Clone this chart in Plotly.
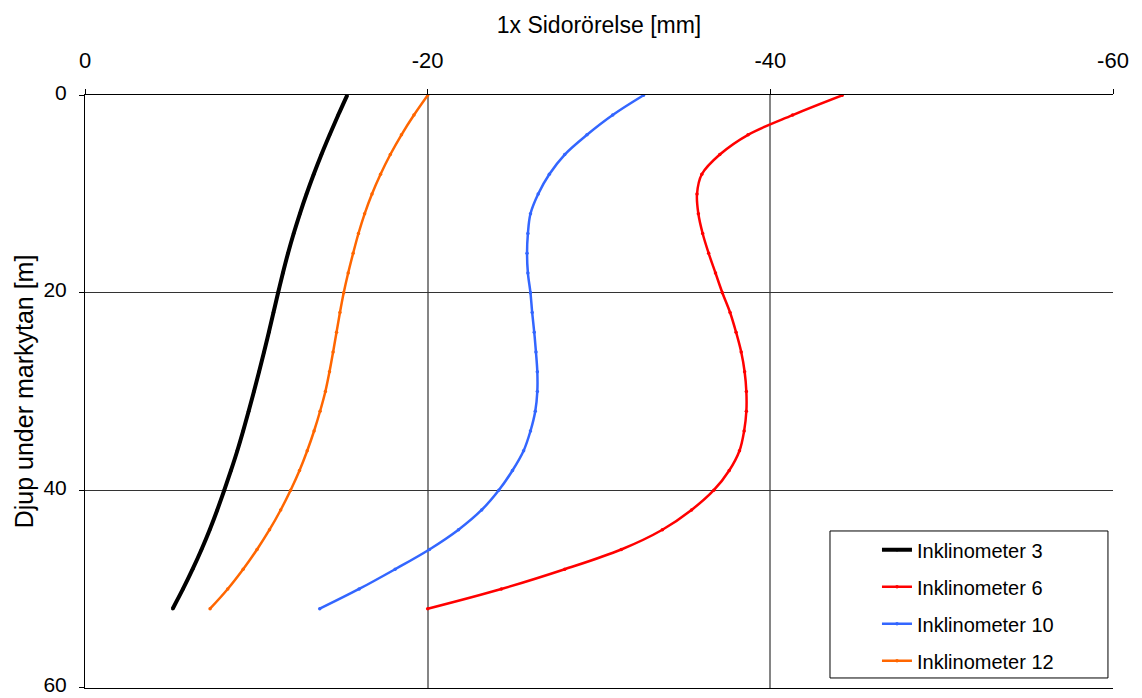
import plotly.graph_objects as go

# Depth below ground surface [m], one reading every 2 m
depth = [0, 2, 4, 6, 8, 10, 12, 14, 16, 18, 20, 22, 24, 26,
         28, 30, 32, 34, 36, 38, 40, 42, 44, 46, 48, 50, 52]

# Lateral displacement [mm] per inclinometer
incl_3 = [-15.3, -14.78, -14.28, -13.8, -13.35, -12.93, -12.54, -12.18, -11.85,
          -11.55, -11.27, -11.0, -10.73, -10.45, -10.16, -9.86, -9.55, -9.23,
          -8.89, -8.52, -8.13, -7.72, -7.28, -6.8, -6.28, -5.72, -5.12]
incl_6 = [-44.2, -41.3, -38.7, -37.05, -36.0, -35.72, -35.8, -36.05, -36.4,
          -36.8, -37.2, -37.65, -38.0, -38.3, -38.5, -38.6, -38.6, -38.47,
          -38.2, -37.6, -36.7, -35.4, -33.7, -31.3, -28.0, -24.3, -20.0]
incl_10 = [-32.6, -30.8, -29.3, -28.0, -27.1, -26.45, -26.0, -25.85, -25.8,
           -25.85, -26.0, -26.1, -26.22, -26.32, -26.4, -26.4, -26.28, -26.0,
           -25.6, -24.95, -24.15, -23.15, -21.8, -20.1, -18.1, -16.0, -13.7]
incl_12 = [-20.0, -19.2, -18.47, -17.82, -17.25, -16.75, -16.32, -15.96, -15.65,
           -15.36, -15.1, -14.88, -14.68, -14.48, -14.27, -14.03, -13.72, -13.37,
           -12.97, -12.52, -12.0, -11.42, -10.77, -10.04, -9.23, -8.33, -7.3]

x_ticks = [0, -20, -40, -60]
y_ticks = [0, 20, 40, 60]

series = [
    ("Inklinometer 3", incl_3, "#000000", 4),
    ("Inklinometer 6", incl_6, "#ff0000", 2.5),
    ("Inklinometer 10", incl_10, "#3366ff", 2.5),
    ("Inklinometer 12", incl_12, "#ff6600", 2.5),
]

FONT = "Liberation Sans, Arial, sans-serif"

fig = go.Figure()
for name, vals, color, width in series:
    fig.add_trace(go.Scatter(
        x=vals, y=depth, name=name, legendgroup=name, mode="lines+markers",
        line=dict(color=color, width=width, shape="spline", smoothing=1.0),
        marker=dict(color=color, size=3.5),
    ))

# Legend frame (entries are laid over it)
fig.add_shape(
    type="rect", xref="paper", yref="paper",
    x0=0.7247, x1=0.9951, y0=0.0169, y1=0.2648,
    line=dict(color="black", width=1), fillcolor="white", layer="above",
)

fig.update_layout(
    width=1142, height=698,
    margin=dict(l=85, r=29, t=95, b=10),
    paper_bgcolor="white", plot_bgcolor="white",
    font=dict(family=FONT, size=22, color="black"),
    showlegend=True,
    legend=dict(
        x=0.7704, y=0.266, xanchor="left", yanchor="top",
        bgcolor="rgba(0,0,0,0)", borderwidth=0,
        font=dict(family=FONT, size=20),
        tracegroupgap=8, itemwidth=30,
    ),
)

fig.update_xaxes(
    side="top", range=[0, -60], tickvals=x_ticks,
    ticktext=[str(v) for v in x_ticks],
    showgrid=True, gridcolor="#858585", gridwidth=2,
    showline=True, linecolor="black", linewidth=1, mirror=True,
    ticks="outside", ticklen=5, tickcolor="black",
    ticklabelstandoff=12,
    zeroline=False, automargin=False,
    tickfont=dict(size=22),
    title=dict(text="1x Sidorörelse [mm]", font=dict(size=23), standoff=8),
)
fig.update_yaxes(
    range=[60.03, -0.03], tickvals=y_ticks,
    ticktext=[str(v) for v in y_ticks],
    showgrid=True, gridcolor="#333333", gridwidth=1,
    showline=True, linecolor="black", linewidth=1,
    ticks="outside", ticklen=5, tickcolor="black",
    ticklabelstandoff=8, ticklabeloverflow="allow", ticklabelshift=3,
    zeroline=False, automargin=False,
    tickfont=dict(size=21),
    title=dict(text="Djup under markytan [m]", font=dict(size=25), standoff=2),
)

fig.write_html("out.html")
